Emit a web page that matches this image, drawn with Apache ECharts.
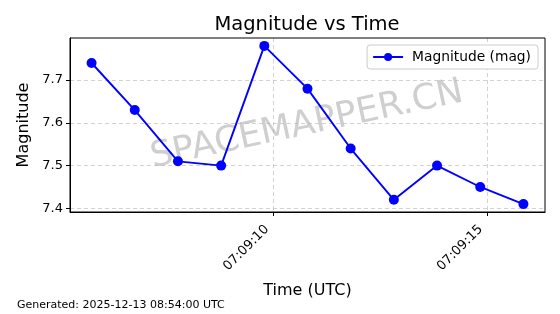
<!DOCTYPE html>
<html><head><meta charset="utf-8">
<script src="https://cdn.jsdelivr.net/npm/echarts@6/dist/echarts.min.js"></script>
<style>html,body{margin:0;padding:0;background:#fff}#c{width:560px;height:314px}</style>
</head><body><div id="c"></div>
<script>
// seconds after 07:09:00 UTC
const timeSeconds = [5.75, 6.76, 7.77, 8.78, 9.79, 10.80, 11.81, 12.82, 13.83, 14.84, 15.85];
const magnitudes = [7.74, 7.63, 7.51, 7.50, 7.78, 7.68, 7.54, 7.42, 7.50, 7.45, 7.41];
const xTickSeconds = [10, 15];
const yTicks = [7.4, 7.5, 7.6, 7.7];
const baseLabel = '07:09:';

const font = 'DejaVu Sans';
const chart = echarts.init(document.getElementById('c'), null, {renderer: 'canvas'});
const data = timeSeconds.map((t, i) => [t, magnitudes[i]]);
const gridLine = {show: true, lineStyle: {color: '#b0b0b0', type: [4, 3], width: 0.8, opacity: 0.7}};
chart.setOption({
  animation: false,
  title: {text: 'Magnitude vs Time', left: 302, top: 10, textAlign: 'center',
    textStyle: {fontFamily: font, fontSize: 19.5, fontWeight: 'normal', color: '#000'}},
  grid: {left: 70, right: 15, top: 38, bottom: 102, containLabel: false},
  legend: {right: 22, top: 45, padding: [5, 7, 5, 5], itemWidth: 30, itemHeight: 10, itemGap: 8,
    borderColor: '#cccccc', borderWidth: 1, borderRadius: 3, backgroundColor: '#fff',
    textStyle: {fontFamily: font, fontSize: 13.8, color: '#000', padding: [0, 0, 0, 4]},
    data: ['Magnitude (mag)']},
  xAxis: {type: 'value', min: 5.245, max: 16.355,
    name: 'Time (UTC)', nameLocation: 'middle', nameGap: 71,
    nameTextStyle: {fontFamily: font, fontSize: 16, color: '#000'},
    axisLine: {show: true, onZero: false, lineStyle: {color: '#000', width: 1}},
    axisTick: {show: true, customValues: xTickSeconds, length: 4, lineStyle: {color: '#000'}},
    axisLabel: {customValues: xTickSeconds, rotate: 45, fontFamily: font, fontSize: 13, color: '#000', margin: 9,
      padding: [0, 9, 0, 0],
      formatter: v => baseLabel + String(Math.round(v)).padStart(2, '0')},
    splitLine: Object.assign({customValues: xTickSeconds}, gridLine)},
  yAxis: {type: 'value', min: 7.3915, max: 7.7985,
    name: 'Magnitude', nameLocation: 'middle', nameGap: 36, nameRotate: 90,
    nameTextStyle: {fontFamily: font, fontSize: 16, color: '#000'},
    axisLine: {show: true, lineStyle: {color: '#000', width: 1}},
    axisTick: {show: true, customValues: yTicks, length: 4, lineStyle: {color: '#000'}},
    axisLabel: {customValues: yTicks, fontFamily: font, fontSize: 13, color: '#000', margin: 7,
      formatter: v => v.toFixed(1)},
    splitLine: Object.assign({customValues: yTicks}, gridLine)},
  graphic: [
    {type: 'rect', shape: {x: 70, y: 38, width: 475, height: 174}, style: {fill: 'none', stroke: '#000', lineWidth: 1}, z: 10, silent: true},
    {type: 'text', x: 307, y: 125, rotation: 12 * Math.PI / 180, z: 0, silent: true,
      style: {text: 'SPACEMAPPER.CN', fontFamily: font, fontSize: 35.5, fill: 'rgba(160,160,160,0.5)', align: 'center', verticalAlign: 'middle'}},
    {type: 'text', left: 17, top: 300,
      style: {text: 'Generated: 2025-12-13 08:54:00 UTC', fontFamily: font, fontSize: 11, fill: '#000'}}
  ],
  series: [{name: 'Magnitude (mag)', type: 'line', data: data,
    symbol: 'circle', symbolSize: 10, showAllSymbol: true,
    lineStyle: {color: '#0000ff', width: 1.9},
    itemStyle: {color: '#0000ff'}, z: 5}]
});
</script></body></html>
